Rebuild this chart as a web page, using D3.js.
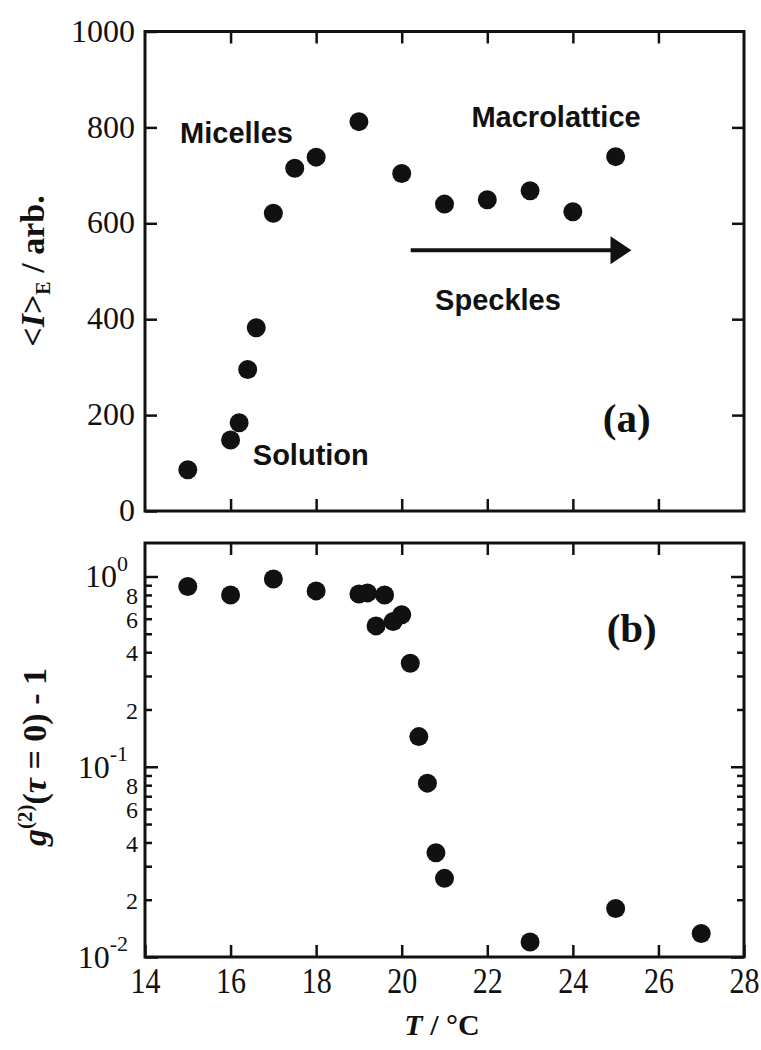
<!DOCTYPE html>
<html><head><meta charset="utf-8">
<script src="https://cdn.jsdelivr.net/npm/d3@7"></script>
<style>body{margin:0;background:#fff}</style>
</head><body>
<svg id="c" width="761" height="1050"></svg>
<script>
// ---- data ----
const tempA = [15, 16, 16.2, 16.4, 16.6, 17, 17.5, 18, 19, 20, 21, 22, 23, 24, 25];
const intensityA = [86, 148, 184, 295, 382, 621, 715, 738, 812, 704, 640, 649, 668, 624, 739];
const tempB = [15, 16, 17, 18, 19, 19.2, 19.4, 19.6, 19.8, 20, 20.2, 20.4, 20.6, 20.8, 21, 23, 25, 27];
const g2B = [0.886, 0.80, 0.97, 0.84, 0.81, 0.82, 0.55, 0.80, 0.58, 0.63, 0.35, 0.144, 0.082, 0.0353, 0.0259, 0.012, 0.018, 0.0133];
const xTicks = [14, 16, 18, 20, 22, 24, 26, 28];
const yTicksA = [0, 200, 400, 600, 800, 1000];
const annotTextA = ["Micelles", "Macrolattice", "Speckles", "Solution"];
const annotTA = [14.82, 21.63, 20.78, 16.52];
const annotVA = [767, 801, 419, 96];
const arrowT = [20.21, 25.37];
const arrowV = 544;

// ---- layout ----
const svg = d3.select("#c");
const L = 145, R = 744;
const topA = 31.5, botA = 511, topB = 543, botB = 957;
const x = d3.scaleLinear().domain([14, 28]).range([L, R]);
const yA = d3.scaleLinear().domain([0, 1000]).range([botA, topA]);
const yB = d3.scaleLog().domain([0.01, 1.5]).range([botB, topB]);
const serif = "'Liberation Serif','Times New Roman',serif";
const sans = "'Liberation Sans',Arial,Helvetica,sans-serif";
const TL = 12;

function clean(g) {
  g.select(".domain").remove();
  g.selectAll(".tick line").attr("stroke", "#111").attr("stroke-width", 2.5);
}

// ---------- Panel (a) ----------
svg.append("g").attr("transform", `translate(0,${botA})`)
  .call(d3.axisBottom(x).tickValues(xTicks.slice(1, -1)).tickSize(-TL).tickFormat(""))
  .call(clean);
svg.append("g").attr("transform", `translate(0,${topA})`)
  .call(d3.axisTop(x).tickValues(xTicks.slice(1, -1)).tickSize(-TL).tickFormat(""))
  .call(clean);
const gAL = svg.append("g").attr("transform", `translate(${L},0)`)
  .call(d3.axisLeft(yA).tickValues(yTicksA).tickSize(-TL).tickPadding(10).tickFormat(d3.format("d")))
  .call(clean);
gAL.selectAll(".tick text").attr("font-family", serif).attr("font-size", 32).attr("fill", "#111").attr("dy", "0.3em");
svg.append("g").attr("transform", `translate(${R},0)`)
  .call(d3.axisRight(yA).tickValues(yTicksA.slice(1, -1)).tickSize(-TL).tickFormat(""))
  .call(clean);

svg.append("rect").attr("x", L).attr("y", topA).attr("width", R - L).attr("height", botA - topA)
  .attr("fill", "none").attr("stroke", "#111").attr("stroke-width", 3);

svg.append("g").selectAll("circle").data(tempA.map((t, i) => [t, intensityA[i]])).join("circle")
  .attr("cx", d => x(d[0])).attr("cy", d => yA(d[1])).attr("r", 9.5).attr("fill", "#111");

svg.append("g").selectAll("text").data(annotTextA).join("text")
  .attr("x", (d, i) => x(annotTA[i])).attr("y", (d, i) => yA(annotVA[i]))
  .attr("font-family", sans).attr("font-weight", "bold").attr("font-size", 29).attr("fill", "#111")
  .text(d => d);

// arrow
const ax0 = x(arrowT[0]), ax1 = x(arrowT[1]), ay = yA(arrowV);
svg.append("line").attr("x1", ax0).attr("x2", ax1 - 18).attr("y1", ay).attr("y2", ay)
  .attr("stroke", "#111").attr("stroke-width", 4);
svg.append("path").attr("d", `M${ax1},${ay} L${ax1 - 21},${ay - 14} L${ax1 - 21},${ay + 14} Z`).attr("fill", "#111");

svg.append("text").attr("x", x(24.7)).attr("y", yA(165))
  .attr("font-family", serif).attr("font-weight", "bold").attr("font-size", 41).attr("fill", "#111").text("(a)");

// y label (a)
const ylA = svg.append("text").attr("transform", "translate(44,271) rotate(-90)")
  .attr("text-anchor", "middle").attr("font-family", serif).attr("font-weight", "bold")
  .attr("font-size", 34).attr("fill", "#111");
ylA.append("tspan").text("<");
ylA.append("tspan").attr("font-style", "italic").text("I");
ylA.append("tspan").text(">");
ylA.append("tspan").attr("font-size", 20).attr("dy", 6).text("E");
ylA.append("tspan").attr("dy", -6).text(" / arb.");

// ---------- Panel (b) ----------
const logTicks = [];
[-2, -1].forEach(e => { for (let m = 1; m <= 9; m++) logTicks.push(+(m * Math.pow(10, e)).toPrecision(3)); });
logTicks.push(1);
const isMajor = v => Math.abs(Math.log10(v) - Math.round(Math.log10(v))) < 1e-6;
const mant = v => Math.round(v / Math.pow(10, Math.floor(Math.log10(v) + 1e-9)));

const gBB = svg.append("g").attr("transform", `translate(0,${botB})`)
  .call(d3.axisBottom(x).tickValues(xTicks).tickSize(-TL).tickPadding(0).tickFormat(d3.format("d")))
  .call(clean);
gBB.selectAll(".tick text").attr("font-family", serif).attr("font-size", 30).attr("fill", "#111")
  .attr("dy", 0).attr("y", 36 / 1.2).attr("transform", "scale(1,1.2)");
svg.append("g").attr("transform", `translate(0,${topB})`)
  .call(d3.axisTop(x).tickValues(xTicks.slice(1, -1)).tickSize(-TL).tickFormat(""))
  .call(clean);

const gBL = svg.append("g").attr("transform", `translate(${L},0)`)
  .call(d3.axisLeft(yB).tickValues(logTicks).tickSize(-7).tickFormat(""))
  .call(clean);
gBL.selectAll(".tick line").attr("x2", d => isMajor(d) ? 13 : 7);
gBL.selectAll(".tick text").each(function (d) {
  const t = d3.select(this).attr("font-family", serif).attr("fill", "#111").attr("text-anchor", "end");
  if (isMajor(d)) {
    t.attr("x", -17).attr("dy", "0.32em").attr("font-size", 32);
    t.append("tspan").text("10");
    t.append("tspan").attr("font-size", 22).attr("dy", "-0.75em").text(String(Math.round(Math.log10(d))));
  } else if ([2, 4, 6, 8].includes(mant(d))) {
    t.attr("x", -7).attr("dy", "0.36em").attr("font-size", 24).text(String(mant(d)));
  }
});
const gBR = svg.append("g").attr("transform", `translate(${R},0)`)
  .call(d3.axisRight(yB).tickValues(logTicks).tickSize(-7).tickFormat(""))
  .call(clean);
gBR.selectAll(".tick line").attr("x2", d => isMajor(d) ? -13 : -7);

svg.append("rect").attr("x", L).attr("y", topB).attr("width", R - L).attr("height", botB - topB)
  .attr("fill", "none").attr("stroke", "#111").attr("stroke-width", 3);

svg.append("g").selectAll("circle").data(tempB.map((t, i) => [t, g2B[i]])).join("circle")
  .attr("cx", d => x(d[0])).attr("cy", d => yB(d[1])).attr("r", 9.5).attr("fill", "#111");

svg.append("text").attr("x", x(24.79)).attr("y", yB(0.455))
  .attr("font-family", serif).attr("font-weight", "bold").attr("font-size", 41).attr("fill", "#111").text("(b)");

// y label (b)
const ylB = svg.append("text").attr("transform", "translate(46,757) rotate(-90)")
  .attr("text-anchor", "middle").attr("font-family", serif).attr("font-weight", "bold")
  .attr("font-size", 34).attr("fill", "#111");
ylB.append("tspan").attr("font-style", "italic").text("g");
ylB.append("tspan").attr("font-size", 21).attr("dy", -14).text("(2)");
ylB.append("tspan").attr("dy", 14).text("(");
ylB.append("tspan").attr("font-style", "italic").text("τ");
ylB.append("tspan").text(" = 0) - 1");

// x label
const xl = svg.append("text").attr("x", 442).attr("y", 1035).attr("text-anchor", "middle")
  .attr("font-family", serif).attr("font-weight", "bold").attr("font-size", 30).attr("fill", "#111");
xl.append("tspan").attr("font-style", "italic").text("T");
xl.append("tspan").text(" / °C");
</script>
</body></html>
